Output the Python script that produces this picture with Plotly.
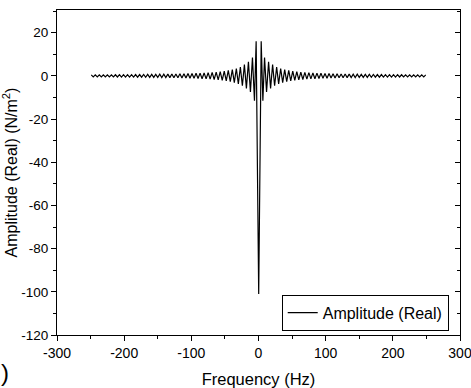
import plotly.graph_objects as go

# Frequency bins (Hz)
freq_neg = [-249, -246, -243, -240, -237, -234, -231, -228, -225, -222, -219, -216, -213, -210,
            -207, -204, -201, -198, -195, -192, -189, -186, -183, -180, -177, -174, -171, -168,
            -165, -162, -159, -156, -153, -150, -147, -144, -141, -138, -135, -132, -129, -126,
            -123, -120, -117, -114, -111, -108, -105, -102, -99, -96, -93, -90, -87, -84, -81,
            -78, -75, -72, -69, -66, -63, -60, -57, -54, -51, -48, -45, -42, -39, -36, -33, -30,
            -27, -24, -21, -18, -15, -12, -9, -6, -3.5]
amp_neg = [0.44, -0.45, 0.45, -0.46, 0.46, -0.47, 0.48, -0.48, 0.49, -0.5, 0.5, -0.51, 0.52, -0.52,
           0.53, -0.54, 0.55, -0.56, 0.56, -0.57, 0.58, -0.59, 0.6, -0.61, 0.62, -0.63, 0.64, -0.65,
           0.67, -0.68, 0.69, -0.7, 0.72, -0.73, 0.75, -0.76, 0.78, -0.8, 0.81, -0.83, 0.85, -0.87,
           0.9, -0.92, 0.94, -0.96, 0.99, -1.02, 1.05, -1.08, 1.11, -1.15, 1.18, -1.22, 1.27, -1.31, 1.36,
           -1.41, 1.47, -1.53, 1.6, -1.67, 1.75, -1.85, 1.95, -2.05, 2.2, -2.3, 2.5, -2.7, 2.9, -3.1, 3.4, -3.7,
           4.1, -4.6, 5.2, -5.8, 6.5, -7.5, 8.5, -11.5, 16.0]
freq_center = [0.3]
amp_center = [-101.0]
freq_pos = [4, 6.5, 9, 12, 15, 18, 21, 24, 27, 30, 33, 36, 39, 42, 45, 48, 51, 54, 57, 60, 63, 66, 69,
            72, 75, 78, 81, 84, 87, 90, 93, 96, 99, 102, 105, 108, 111, 114, 117, 120, 123, 126, 129,
            132, 135, 138, 141, 144, 147, 150, 153, 156, 159, 162, 165, 168, 171, 174, 177, 180, 183,
            186, 189, 192, 195, 198, 201, 204, 207, 210, 213, 216, 219, 222, 225, 228, 231, 234, 237,
            240, 243, 246, 249]
amp_pos = [16.0, -11.5, 8.5, -7.5, 6.5, -5.8, 5.2, -4.6, 4.1, -3.7, 3.4, -3.1, 2.9, -2.7, 2.5, -2.3,
           2.2, -2.05, 1.95, -1.85, 1.75, -1.67, 1.6, -1.53, 1.47, -1.41, 1.36, -1.31, 1.27, -1.22,
           1.18, -1.15, 1.11, -1.08, 1.05, -1.02, 0.99, -0.96, 0.94, -0.92, 0.9, -0.87, 0.85, -0.83,
           0.81, -0.8, 0.78, -0.76, 0.75, -0.73, 0.72, -0.7, 0.69, -0.68, 0.67, -0.65, 0.64, -0.63,
           0.62, -0.61, 0.6, -0.59, 0.58, -0.57, 0.56, -0.56, 0.55, -0.54, 0.53, -0.52, 0.52, -0.51,
           0.5, -0.5, 0.49, -0.48, 0.48, -0.47, 0.46, -0.46, 0.45, -0.45, 0.44]

freq = freq_neg + freq_center + freq_pos
amp = amp_neg + amp_center + amp_pos

x_ticks = [-300, -200, -100, 0, 100, 200, 300]
x_ticktext = ["-300", "-200", "-100", "0", "100", "200", "300"]
y_ticks = [20, 0, -20, -40, -60, -80, -100, -120]
y_ticktext = ["20", "0", "-20", "-40", "-60", "-80", "-100", "-120"]

FONT = "Liberation Sans, Arial, sans-serif"
X_RANGE = [-300, 300]
Y_RANGE = [-120, 30.5]

fig = go.Figure()
fig.add_trace(go.Scatter(x=freq, y=amp, mode="lines", name="Amplitude (Real)",
                         line=dict(color="black", width=1.2)))
fig.add_trace(go.Scatter(x=freq, y=amp, mode="lines", yaxis="y2", showlegend=False,
                         hoverinfo="skip", line=dict(color="rgba(0,0,0,0)", width=0)))

fig.update_layout(
    width=471, height=388,
    margin=dict(l=57, r=11, t=10, b=53, autoexpand=False),
    paper_bgcolor="white", plot_bgcolor="white",
    font=dict(family=FONT, color="black"),
    showlegend=True,
    legend=dict(x=0.972, y=0.013, xanchor="right", yanchor="bottom",
                bordercolor="black", borderwidth=1, bgcolor="white",
                font=dict(size=16, family=FONT),
                tracegroupgap=0, itemwidth=30),
    xaxis=dict(range=X_RANGE, tickvals=x_ticks, ticktext=x_ticktext, automargin=False,
               ticklabeloverflow="allow",
               showgrid=False, zeroline=False, showline=True, linecolor="black",
               linewidth=1, mirror=True, ticks="outside", ticklen=5, tickwidth=1,
               tickcolor="black", tickfont=dict(size=14),
               minor=dict(dtick=50, ticks="outside", ticklen=3, tickcolor="black", showgrid=False),
               title=dict(text="Frequency (Hz)", font=dict(size=16.5), standoff=15)),
    yaxis=dict(range=Y_RANGE, tickvals=y_ticks, ticktext=y_ticktext, automargin=False,
               ticklabeloverflow="allow",
               showgrid=False, zeroline=False, showline=True, linecolor="black",
               linewidth=1, mirror=True, ticks="outside", ticklen=5, tickwidth=1,
               tickcolor="black", tickfont=dict(size=13.5),
               minor=dict(dtick=10, ticks="outside", ticklen=3, tickcolor="black", showgrid=False),
               title=dict(text="Amplitude (Real) (N/m<sup>2</sup>)", font=dict(size=16), standoff=3)),
    yaxis2=dict(range=Y_RANGE, overlaying="y", side="right", tickvals=y_ticks, automargin=False,
                showticklabels=False, showgrid=False, zeroline=False, showline=False,
                ticks="inside", ticklen=5, tickwidth=1, tickcolor="black",
                minor=dict(dtick=10, ticks="inside", ticklen=3, tickcolor="black", showgrid=False)),
)

fig.add_annotation(text=")", xref="paper", yref="paper", x=-0.145, y=-0.115,
                   xanchor="left", yanchor="middle", showarrow=False,
                   font=dict(size=24, family=FONT, color="black"))

fig.write_html("out.html")
